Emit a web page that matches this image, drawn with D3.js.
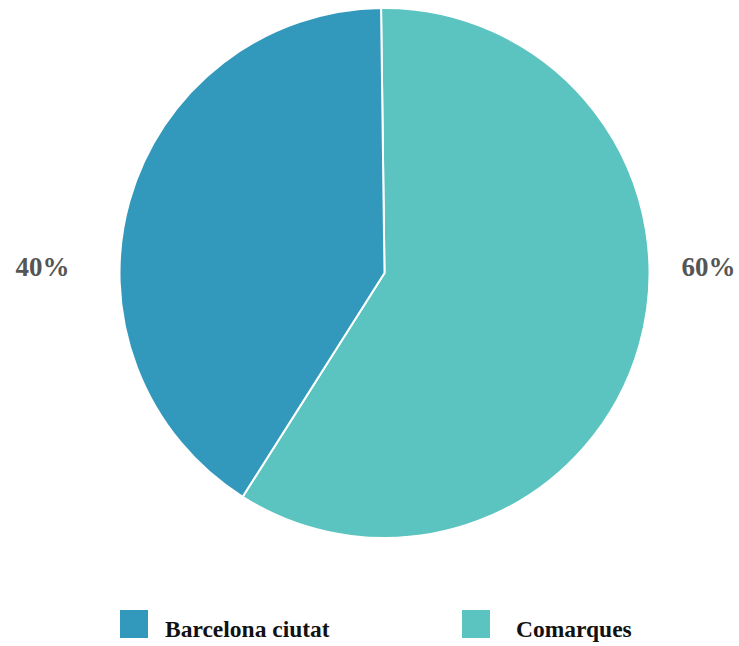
<!DOCTYPE html>
<html>
<head>
<meta charset="utf-8">
<script src="https://cdn.jsdelivr.net/npm/d3@7"></script>
<style>
  body { margin: 0; background: #fff; }
  svg { display: block; }
</style>
</head>
<body>
<div id="chart"></div>
<script>
// data
var categories = ["Comarques", "Barcelona ciutat"];
var values = [59.2, 40.8];
var pctLabels = ["60%", "40%"];
var legendOrder = ["Barcelona ciutat", "Comarques"];

var w = 739, h = 646;
var cx = 384.5, cy = 273, r = 265;

var color = d3.scaleOrdinal()
  .domain(["Barcelona ciutat", "Comarques"])
  .range(["#3399bc", "#5cc4c0"]);

var svg = d3.select("#chart").append("svg")
  .attr("width", w)
  .attr("height", h);

var rows = categories.map(function(c, i) { return {name: c, value: values[i], label: pctLabels[i]}; });

var pie = d3.pie()
  .sort(null)
  .value(function(d) { return d.value; })
  .startAngle(-0.013)
  .endAngle(2 * Math.PI - 0.013);

var arc = d3.arc().innerRadius(0).outerRadius(r);

var g = svg.append("g").attr("transform", "translate(" + cx + "," + cy + ")");

g.selectAll("path")
  .data(pie(rows))
  .enter().append("path")
  .attr("d", arc)
  .attr("fill", function(d) { return color(d.data.name); })
  .attr("stroke", "#fff")
  .attr("stroke-width", 2);

// side labels
function leftSide(d) { return Math.sin((d.startAngle + d.endAngle) / 2) < 0; }

g.selectAll("text.pct")
  .data(pie(rows))
  .enter().append("text")
  .attr("class", "pct")
  .attr("x", function(d) { return leftSide(d) ? -(r + 50) : (r + 32); })
  .attr("y", 3)
  .attr("text-anchor", function(d) { return leftSide(d) ? "end" : "start"; })
  .style("font-family", "'Liberation Serif', serif")
  .style("font-weight", "bold")
  .style("font-size", "27px")
  .style("fill", "#555")
  .text(function(d) { return d.data.label; });

// legend
var legendX = d3.scalePoint().domain(legendOrder).range([120, 462]);

var lg = svg.selectAll("g.legend")
  .data(legendOrder)
  .enter().append("g")
  .attr("class", "legend")
  .attr("transform", function(d) { return "translate(" + legendX(d) + ",610)"; });

lg.append("rect")
  .attr("width", 28)
  .attr("height", 28)
  .attr("fill", function(d) { return color(d); });

lg.append("text")
  .attr("x", function(d, i) { return i == 0 ? 45 : 54; })
  .attr("y", 27)
  .style("font-family", "'Liberation Serif', serif")
  .style("font-weight", "bold")
  .style("font-size", "23.5px")
  .style("fill", "#111")
  .text(function(d) { return d; });
</script>
</body>
</html>
